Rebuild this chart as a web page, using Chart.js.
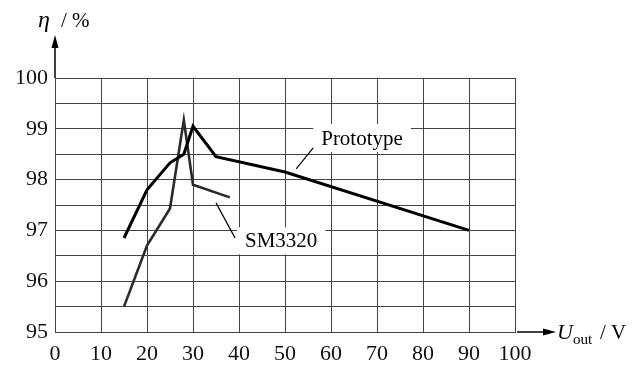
<!DOCTYPE html>
<html><head><meta charset="utf-8">
<script src="https://cdn.jsdelivr.net/npm/chart.js@4"></script>
<style>html,body{margin:0;padding:0;background:#fff}#wrap{width:641px;height:367px}</style>
</head><body><div id="wrap"><canvas id="c" width="641" height="367"></canvas></div>
<script>
const protoX = [15, 20, 25, 28, 30, 35, 50, 90];
const protoY = [96.85, 97.8, 98.33, 98.5, 99.05, 98.45, 98.15, 97.0];
const smX = [15, 20, 25, 28, 30, 38];
const smY = [95.5, 96.7, 97.43, 99.17, 97.9, 97.65];
const xTicks = [0, 10, 20, 30, 40, 50, 60, 70, 80, 90, 100];
const yTicks = [95, 96, 97, 98, 99, 100];
const seriesNames = ['Prototype', 'SM3320'];

const SERIF = '"Liberation Serif", "DejaVu Serif", serif';

const deco = {
  id: 'deco',
  afterDatasetsDraw(chart) {
    const ctx = chart.ctx, a = chart.chartArea;
    const xs = chart.scales.x, ys = chart.scales.y;
    ctx.save();
    ctx.strokeStyle = '#000'; ctx.fillStyle = '#000'; ctx.lineWidth = 1.5;
    // y arrow
    ctx.beginPath(); ctx.moveTo(a.left, a.top); ctx.lineTo(a.left, a.top - 32); ctx.stroke();
    ctx.beginPath(); ctx.moveTo(a.left, a.top - 43); ctx.lineTo(a.left - 3.5, a.top - 30); ctx.lineTo(a.left + 3.5, a.top - 30); ctx.closePath(); ctx.fill();
    // x arrow
    ctx.beginPath(); ctx.moveTo(a.right + 2, a.bottom); ctx.lineTo(a.right + 30, a.bottom); ctx.stroke();
    ctx.beginPath(); ctx.moveTo(a.right + 41, a.bottom); ctx.lineTo(a.right + 28, a.bottom - 3.5); ctx.lineTo(a.right + 28, a.bottom + 3.5); ctx.closePath(); ctx.fill();
    // y title
    ctx.textBaseline = 'alphabetic'; ctx.textAlign = 'left';
    ctx.font = 'italic 24px ' + SERIF; ctx.fillText('η', 38, 27);
    ctx.font = '21px ' + SERIF; ctx.fillText('/ %', 61, 27);
    // x title
    ctx.font = 'italic 22px ' + SERIF; ctx.fillText('U', a.right + 42, a.bottom + 7);
    ctx.font = '15px ' + SERIF; ctx.fillText('out', a.right + 58, a.bottom + 12);
    ctx.font = '21px ' + SERIF; ctx.fillText('/ V', a.right + 85, a.bottom + 7);
    // labels with white boxes
    ctx.font = '21px ' + SERIF;
    function label(txt, x, y, w, h, lx1, ly1, lx2, ly2) {
      ctx.fillStyle = '#fff'; ctx.fillRect(x - 8, y - h / 2, w + 16, h);
      ctx.fillStyle = '#000'; ctx.textBaseline = 'middle'; ctx.fillText(txt, x, y + 1);
      ctx.lineWidth = 1.2; ctx.beginPath(); ctx.moveTo(lx1, ly1); ctx.lineTo(lx2, ly2); ctx.stroke();
    }
    const p0x = xs.getPixelForValue(52), p0y = ys.getPixelForValue(98.13);
    const w1 = ctx.measureText(seriesNames[0]).width;
    label(seriesNames[0], p0x + 27, p0y - 35, w1, 28, p0x + 2, p0y - 4, p0x + 19, p0y - 25);
    const s0x = xs.getPixelForValue(35), s0y = ys.getPixelForValue(97.7);
    const w2 = ctx.measureText(seriesNames[1]).width;
    label(seriesNames[1], s0x + 29, s0y + 46, w2, 27, s0x + 0, s0y + 8, s0x + 19, s0y + 43);
    ctx.restore();
  }
};

new Chart(document.getElementById('c'), {
  type: 'scatter',
  data: {
    datasets: [
      { label: seriesNames[0], data: protoX.map((x, i) => ({ x, y: protoY[i] })), showLine: true, borderColor: '#000', borderWidth: 3, pointRadius: 0, fill: false, order: 1 },
      { label: seriesNames[1], data: smX.map((x, i) => ({ x, y: smY[i] })), showLine: true, borderColor: '#2a2a2a', borderWidth: 2.6, pointRadius: 0, fill: false, order: 2 }
    ]
  },
  options: {
    responsive: false, animation: false, devicePixelRatio: 1,
    layout: { padding: { top: 78, right: 126, left: 0, bottom: 0 } },
    plugins: { legend: { display: false }, tooltip: { enabled: false } },
    scales: {
      x: {
        type: 'linear', min: 0, max: 100,
        afterFit(s) { s.height = 35; },
        afterBuildTicks(s) { s.ticks = xTicks.map(v => ({ value: v })); },
        grid: { color: '#444', lineWidth: 1, drawTicks: false },
        border: { color: '#444', width: 1 },
        ticks: { color: '#111', padding: 9, maxRotation: 0, autoSkip: false, font: { family: SERIF, size: 22 } }
      },
      y: {
        type: 'linear', min: 95, max: 100,
        afterFit(s) { s.width = 55; },
        afterBuildTicks(s) { const t = []; for (let v = 95; v <= 100.001; v += 0.5) t.push({ value: Math.round(v * 2) / 2 }); s.ticks = t; },
        grid: { color: '#444', lineWidth: 1, drawTicks: false },
        border: { color: '#444', width: 1 },
        ticks: { color: '#111', padding: 7, autoSkip: false, font: { family: SERIF, size: 22 },
          callback: v => yTicks.includes(v) ? String(v) : '' }
      }
    }
  },
  plugins: [deco]
});
</script></body></html>
